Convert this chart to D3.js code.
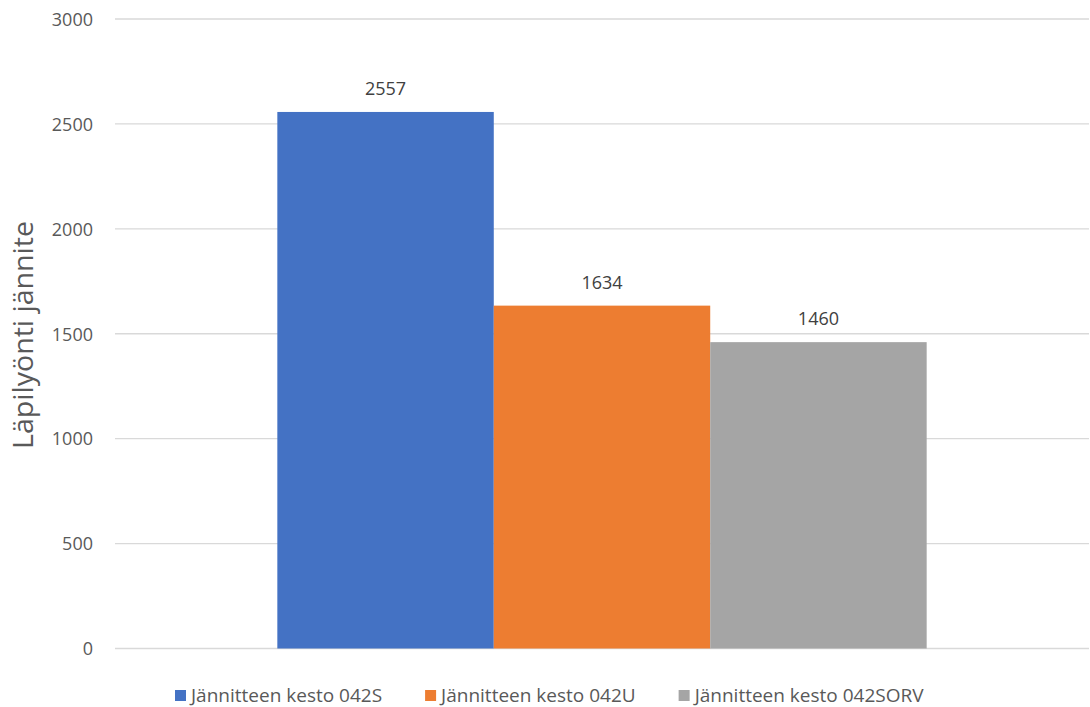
<!DOCTYPE html>
<html>
<head>
<meta charset="utf-8">
<script src="https://cdn.jsdelivr.net/npm/d3@7"></script>
<style>
  html, body { margin: 0; padding: 0; background: #fff; }
  svg { display: block; font-family: "Open Sans", "Noto Sans", sans-serif; }
</style>
</head>
<body>
<svg id="chart" width="1090" height="707"></svg>
<script>
// Breakdown voltage by sample type
const categories = ["Läpilyönti"];
const seriesNames = ["Jännitteen kesto 042S", "Jännitteen kesto 042U", "Jännitteen kesto 042SORV"];
const seriesValues = [2557, 1634, 1460];
const seriesColors = ["#4472C4", "#ED7D31", "#A5A5A5"];
const yTicks = [0, 500, 1000, 1500, 2000, 2500, 3000];
const yTitle = "Läpilyönti jännite";

const svg = d3.select("#chart");
const plot = { left: 115, right: 1089, top: 19, bottom: 648.5 };

const y = d3.scaleLinear().domain([0, 3000]).range([plot.bottom, plot.top]);

// One category band; the three series share its inner part
const x0 = d3.scaleBand().domain(categories).range([plot.left, plot.right]).paddingInner(0).paddingOuter(0.25);
const x1 = d3.scaleBand().domain(seriesNames).range([0, x0.bandwidth()]).padding(0);

// Gridlines
svg.append("g")
  .selectAll("line")
  .data(yTicks)
  .join("line")
  .attr("x1", plot.left)
  .attr("x2", plot.right)
  .attr("y1", d => y(d))
  .attr("y2", d => y(d))
  .attr("stroke", "#d9d9d9")
  .attr("stroke-width", 1.3);

// Y axis labels
const yAxis = d3.axisLeft(y).tickValues(yTicks).tickSize(0).tickPadding(0).tickFormat(d3.format("d"));
const yAxisG = svg.append("g")
  .attr("transform", `translate(93,0)`)
  .call(yAxis);
yAxisG.select(".domain").remove();
yAxisG.selectAll("text")
  .attr("fill", "#595959")
  .attr("font-size", 18)
  .attr("font-family", "'Open Sans', sans-serif")
  .attr("dy", "0.35em");

// Bars
const rows = seriesNames.map((name, i) => ({ cat: categories[0], name, value: seriesValues[i], color: seriesColors[i] }));
const barG = svg.append("g");
barG.selectAll("rect")
  .data(rows)
  .join("rect")
  .attr("x", d => x0(d.cat) + x1(d.name))
  .attr("y", d => y(d.value))
  .attr("width", x1.bandwidth())
  .attr("height", d => y(0) - y(d.value))
  .attr("fill", d => d.color);

// Value labels above bars
barG.selectAll("text")
  .data(rows)
  .join("text")
  .attr("x", d => x0(d.cat) + x1(d.name) + x1.bandwidth() / 2)
  .attr("y", d => y(d.value) - 17)
  .attr("text-anchor", "middle")
  .attr("fill", "#404040")
  .attr("font-size", 18)
  .text(d => d.value);

// Y axis title
svg.append("text")
  .attr("transform", "translate(33,335) rotate(-90)")
  .attr("text-anchor", "middle")
  .attr("fill", "#595959")
  .attr("font-size", 27)
  .attr("textLength", 228)
  .attr("lengthAdjust", "spacingAndGlyphs")
  .text(yTitle);

// Legend
const legend = svg.append("g");
let lx = 175;
rows.forEach(d => {
  legend.append("rect")
    .attr("x", lx)
    .attr("y", 690)
    .attr("width", 11)
    .attr("height", 11)
    .attr("fill", d.color);
  const t = legend.append("text")
    .attr("x", lx + 16)
    .attr("y", 702)
    .attr("fill", "#595959")
    .attr("font-size", 19)
    .text(d.name);
  lx += 16 + t.node().getComputedTextLength() + 43;
});
</script>
</body>
</html>
